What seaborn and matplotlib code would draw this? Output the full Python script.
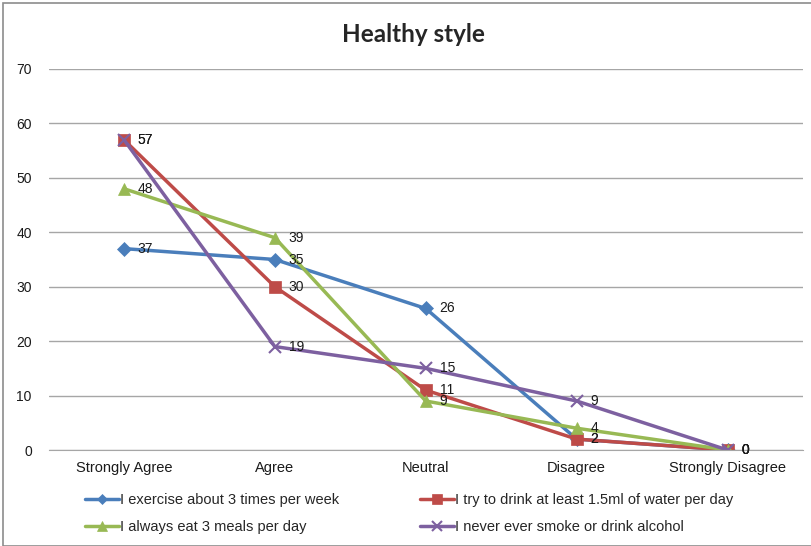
import matplotlib
matplotlib.use("Agg")
import matplotlib.pyplot as plt
from matplotlib.lines import Line2D
from matplotlib.patches import Rectangle
import seaborn as sns
import pandas as pd

categories = ["Strongly Agree", "Agree", "Neutral", "Disagree", "Strongly Disagree"]
exercise = [37, 35, 26, 2, 0]
water = [57, 30, 11, 2, 0]
meals = [48, 39, 9, 4, 0]
no_smoke = [57, 19, 15, 9, 0]

series_names = [
    "I exercise about 3 times per week",
    "I try to drink at least 1.5ml of water per day",
    "I always eat 3 meals per day",
    "I never ever smoke or drink alcohol",
]
series_values = [exercise, water, meals, no_smoke]
colors = ["#4A7EBB", "#BE4B48", "#98B954", "#7D60A0"]
markers = ["D", "s", "^", "x"]
msizes = [7, 9, 9, 9]

rows = []
for name, vals in zip(series_names, series_values):
    for i, (cat, v) in enumerate(zip(categories, vals)):
        rows.append({"series": name, "pos": i, "category": cat, "value": v})
df = pd.DataFrame(rows)

sns.set_style("white")
plt.rcParams["font.family"] = ["Liberation Sans", "DejaVu Sans"]

fig = plt.figure(figsize=(8.11, 5.46), dpi=100)
ax = fig.add_axes([48.5 / 811, 1 - 450 / 546, (803 - 48.5) / 811, (450 - 69) / 546])

for name, col, mk, ms in zip(series_names, colors, markers, msizes):
    sub = df[df["series"] == name]
    sns.lineplot(data=sub, x="pos", y="value", ax=ax, color=col, marker=mk,
                 markersize=ms, linewidth=2.5, markeredgecolor=col,
                 markeredgewidth=1.5 if mk == "x" else 0.5, legend=False)
    for _, r in sub.iterrows():
        ax.annotate(f"{r['value']:g}", (r["pos"], r["value"]), xytext=(10, 0),
                    textcoords="offset points", ha="left", va="center",
                    fontsize=10, color="#1a1a1a")

ax.set_xlim(-0.5, 4.5)
ax.set_ylim(0, 70)
ax.set_yticks(range(0, 71, 10))
ax.set_xticks(range(len(categories)))
ax.set_xticklabels(categories, fontsize=10.5, color="#1a1a1a")
ax.tick_params(axis="y", labelsize=10, colors="#1a1a1a", length=0, pad=12)
ax.tick_params(axis="x", length=0, pad=8)
ax.grid(axis="y", color="#A6A6A6", linewidth=1)
ax.set_axisbelow(True)
for s in ["top", "right", "left"]:
    ax.spines[s].set_visible(False)
ax.spines["bottom"].set_color("#A6A6A6")
ax.set_xlabel("")
ax.set_ylabel("")

fig.text(0.51, 1 - 35 / 546, "Healthy style", ha="center", va="center",
         fontsize=17.5, fontweight="bold", family=["Lato", "DejaVu Sans"])

handles = [Line2D([0], [0], color=c, marker=m, markersize=ms * 0.8,
                  markeredgecolor=c, linewidth=2.5,
                  markeredgewidth=1.5 if m == "x" else 0.5)
           for c, m, ms in zip(colors, markers, msizes)]
leg_font = {"family": ["Liberation Sans", "DejaVu Sans"], "size": 10.5}
leg1 = fig.legend(handles=[handles[0], handles[2]], labels=[series_names[0], series_names[2]],
                  loc="upper left", bbox_to_anchor=(72 / 811, 1 - 480 / 546),
                  frameon=False, prop=leg_font, handlelength=2.3, handletextpad=0.1,
                  labelspacing=0.9)
leg2 = fig.legend(handles=[handles[1], handles[3]], labels=[series_names[1], series_names[3]],
                  loc="upper left", bbox_to_anchor=(407 / 811, 1 - 480 / 546),
                  frameon=False, prop=leg_font, handlelength=2.3, handletextpad=0.1,
                  labelspacing=0.9)

fig.patches.append(Rectangle((3 / 811, 0), 1, 1 - 3 / 546, transform=fig.transFigure,
                             fill=False, edgecolor="#8C8C8C", linewidth=1.2))

fig.savefig("out.png", dpi=100)
